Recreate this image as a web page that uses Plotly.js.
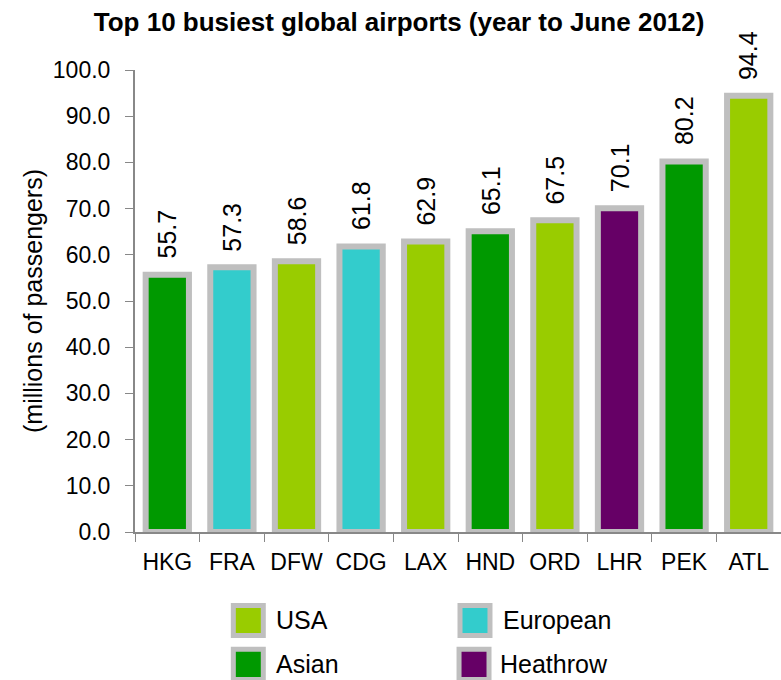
<!DOCTYPE html>
<html><head><meta charset="utf-8">
<script src="https://cdn.plot.ly/plotly-3.0.1.min.js"></script>
<style>html,body{margin:0;padding:0;background:#fff;}#chart{width:781px;height:680px;}</style>
</head><body><div id="chart"></div>
<script>
const airports = ["HKG","FRA","DFW","CDG","LAX","HND","ORD","LHR","PEK","ATL"];
const passengers = [55.7,57.3,58.6,61.8,62.9,65.1,67.5,70.1,80.2,94.4];
const regions = ["Asian","European","USA","European","USA","Asian","USA","Heathrow","Asian","USA"];
const legendOrder = ["USA","European","Asian","Heathrow"];
const regionColors = {USA:"#99cc00", European:"#33cccc", Asian:"#009900", Heathrow:"#660066"};
const borderColor = "#bfbfbf";
const font = "Liberation Sans, Arial, sans-serif";

const trace = {
  type: "bar", x: airports, y: passengers,
  marker: {color: regions.map(r => regionColors[r]), line: {color: borderColor, width: 6}},
  width: 0.67,
  cliponaxis: false, hoverinfo: "x+y", showlegend: false
};

const shapes = [], annotations = [];
// value labels above bars, rotated
airports.forEach((a, i) => {
  annotations.push({x: a, y: passengers[i], xref: "x", yref: "y", text: passengers[i].toFixed(1),
    showarrow: false, textangle: -90, xanchor: "center", yanchor: "bottom", yshift: 14,
    font: {family: font, size: 25, color: "#000"}});
});

// custom legend (large swatches), paper coords relative to plot area
const legPos = [
  {bx: 0.1754, by: -0.1915, tx: 0.2155},
  {bx: 0.5263, by: -0.1915, tx: 0.5665},
  {bx: 0.1754, by: -0.2865, tx: 0.2155},
  {bx: 0.5248, by: -0.2865, tx: 0.5620}
];
legendOrder.forEach((name, i) => {
  const p = legPos[i];
  shapes.push({type: "rect", xref: "paper", yref: "paper",
    x0: p.bx - 0.0232, x1: p.bx + 0.0232, y0: p.by - 0.0325, y1: p.by + 0.0325,
    fillcolor: regionColors[name], line: {color: borderColor, width: 5}});
  annotations.push({xref: "paper", yref: "paper", x: p.tx, y: p.by, text: name,
    showarrow: false, xanchor: "left", yanchor: "middle",
    font: {family: font, size: 25, color: "#000"}});
});

const layout = {
  width: 781, height: 680,
  margin: {l: 135, r: 0, t: 70, b: 148},
  paper_bgcolor: "#fff", plot_bgcolor: "#fff",
  font: {family: font, color: "#000"},
  title: {text: "<b>Top 10 busiest global airports (year to June 2012)</b>",
    font: {family: font, size: 26, color: "#000"}, x: 0.511, xanchor: "center", y: 0.968, yanchor: "middle"},
  xaxis: {type: "category", tickson: "boundaries", ticks: "outside", ticklen: 8, tickcolor: "#888",
    showline: true, linecolor: "#888", linewidth: 2, showgrid: false, zeroline: false, ticklabelstandoff: 8,
    tickfont: {family: font, size: 23, color: "#000"}, fixedrange: true},
  yaxis: {range: [0, 100], dtick: 10, tick0: 0, tickformat: ".1f", ticks: "outside", ticklen: 8, tickcolor: "#888",
    showline: true, linecolor: "#888", linewidth: 2, showgrid: false, zeroline: false, ticklabelstandoff: 10,
    tickfont: {family: font, size: 23, color: "#000"}, fixedrange: true,
    title: {text: "(millions of passengers)", font: {family: font, size: 25, color: "#000"}, standoff: 3}},
  shapes: shapes, annotations: annotations, showlegend: false
};

Plotly.newPlot("chart", [trace], layout, {displayModeBar: false});
</script></body></html>
